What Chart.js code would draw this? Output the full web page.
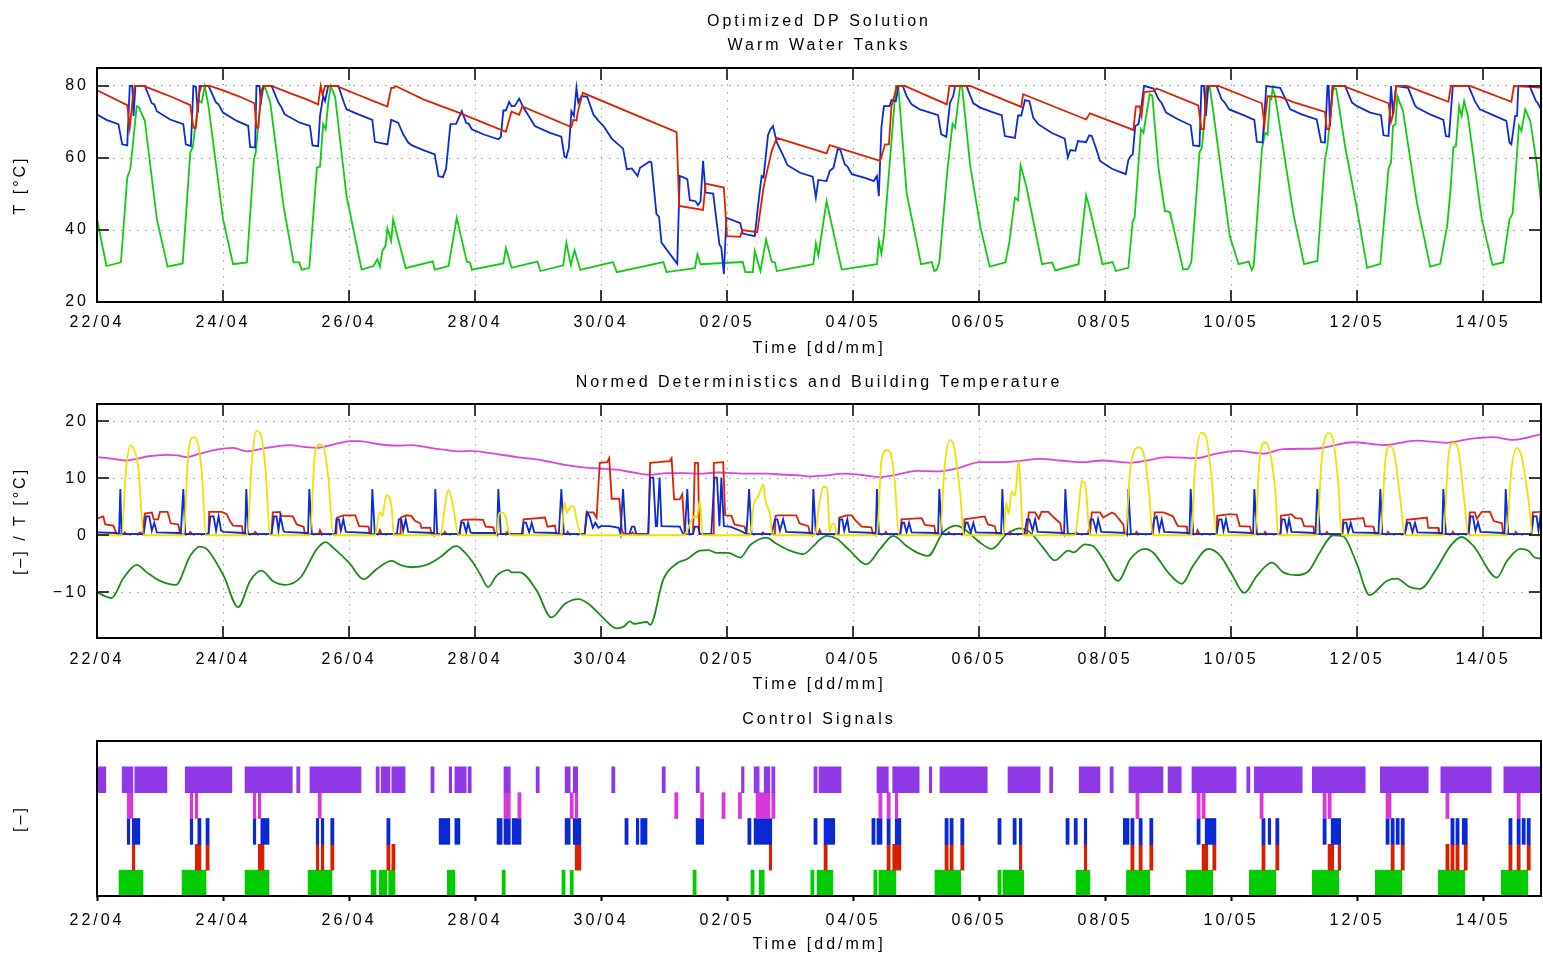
<!DOCTYPE html>
<html>
<head>
<meta charset="utf-8">
<title>Optimized DP Solution</title>
<script src="https://cdn.jsdelivr.net/npm/chart.js@4.4.1/dist/chart.umd.min.js"></script>
<style>
  body { margin: 0; background: #fff; width: 1543px; height: 957px; overflow: hidden; position: relative; }
  canvas { position: absolute; left: 0; }
</style>
</head>
<body>
<canvas id="tankChart" width="1543" height="360" style="top:0px"></canvas>
<canvas id="normChart" width="1543" height="340" style="top:360px"></canvas>
<canvas id="ctrlChart" width="1543" height="257" style="top:700px"></canvas>
<script>
// x values are days since 22/04 00:00
const X_END = 22.92;
const dayTicks = [0, 2, 4, 6, 8, 10, 12, 14, 16, 18, 20, 22];
const dateLabels = ['22/04', '24/04', '26/04', '28/04', '30/04', '02/05', '04/05', '06/05', '08/05', '10/05', '12/05', '14/05'];

/* ---------- Warm water tanks [°C] ---------- */
const tankRed = [[0,78.8],[0.48,74.7],[0.52,68.4],[0.57,77.2],[0.60,80],[0.74,80],[0.95,78.6],[1.21,76.8],[1.48,74.7],[1.53,68.4],[1.57,68.4],[1.62,78],[1.66,80],[1.79,80],[2.0,78.8],[2.27,77],[2.50,75.2],[2.53,68.4],[2.56,68.4],[2.61,78.6],[2.64,80],[2.77,80],[3.06,78],[3.33,76.3],[3.51,74.9],[3.55,80],[3.58,77.5],[3.62,80],[3.80,80],[4.12,77.7],[4.39,75.8],[4.61,74.3],[4.67,79.5],[4.71,79.5],[4.74,80],[5.18,76.3],[5.74,72.6],[6.49,67.3],[6.58,72.9],[6.70,72],[6.75,74.3],[7.53,68.6],[7.56,70.6],[7.61,70.4],[7.63,72.6],[7.71,78.1],[9.20,67.2],[9.24,46.7],[9.62,45.6],[9.66,52.9],[9.95,51.8],[10.0,38.3],[10.21,38.1],[10.24,40],[10.48,39.4],[10.58,51.8],[10.60,53.5],[10.71,62],[10.79,65.6],[11.58,61.3],[11.63,63.6],[12.43,59.2],[12.51,63.8],[12.57,63.8],[12.61,74.4],[12.70,80],[12.82,80],[13.49,74.9],[13.53,80],[13.86,80],[14.67,74.2],[14.70,77.7],[15.70,70.7],[15.76,72.4],[16.45,67.8],[16.49,74.3],[16.55,74.3],[16.58,71.7],[16.62,78.3],[16.77,78.6],[16.82,79.3],[17.48,74.6],[17.53,68],[17.57,68],[17.61,80],[17.80,80],[18.49,75.2],[18.53,69.2],[18.58,77.2],[18.78,77],[18.99,75.5],[19.49,72.8],[19.52,68],[19.56,68],[19.62,80],[19.78,80],[20.50,75.2],[20.54,70],[20.58,72.6],[20.62,80],[20.79,80],[21.45,75.6],[21.49,80],[21.79,80],[22.45,75.6],[22.49,80],[22.95,79.5]];

const tankBlue = [[0,72.1],[0.15,70.6],[0.34,69.4],[0.40,63.8],[0.48,63.5],[0.52,80],[0.56,80],[0.58,71.7],[0.61,80],[0.76,80],[0.87,75.2],[0.91,74.9],[0.95,73],[1.16,70.7],[1.37,69.4],[1.41,63.8],[1.49,63.3],[1.53,80],[1.57,79.8],[1.60,72.6],[1.63,80],[1.77,80],[1.89,75.4],[1.93,74.9],[2.0,72.6],[2.22,70.3],[2.40,68.9],[2.43,63.1],[2.51,62.9],[2.53,80],[2.58,80],[2.60,75.4],[2.64,80],[2.77,80],[2.88,75.4],[2.93,74],[2.98,72.1],[3.22,69.8],[3.38,68.9],[3.42,63.5],[3.51,63.3],[3.54,71.7],[3.59,77.2],[3.62,75.8],[3.67,80],[3.83,80],[3.92,75.4],[3.96,73.5],[4.15,72.1],[4.37,70.6],[4.41,64.5],[4.61,63.8],[4.67,70.6],[4.78,69.8],[4.86,66.6],[4.94,64.3],[5.0,63.5],[5.18,62.2],[5.36,61],[5.42,55],[5.49,54.7],[5.54,56.9],[5.61,69.4],[5.70,69.5],[5.79,73],[5.86,69.8],[5.90,69.5],[5.95,68],[6.13,66.6],[6.37,65.2],[6.41,65.9],[6.45,73.2],[6.49,73.2],[6.54,75.6],[6.58,74.4],[6.63,74.4],[6.70,76.5],[6.77,74],[6.87,71.2],[6.95,68.9],[7.19,67],[7.37,65.9],[7.42,60.4],[7.45,60.1],[7.49,62.9],[7.53,73],[7.57,71.7],[7.61,79.5],[7.64,75.4],[7.69,77.2],[7.78,77],[7.88,72.1],[7.96,70.3],[8.04,68.9],[8.17,65.4],[8.35,62.6],[8.41,56.9],[8.49,57.1],[8.58,55],[8.62,57.3],[8.70,58.2],[8.77,59],[8.80,58.8],[8.88,44.4],[8.92,43.7],[8.96,36.5],[9.21,30.6],[9.25,55],[9.31,54.6],[9.37,54.1],[9.41,48.3],[9.50,48],[9.54,46.9],[9.58,48],[9.62,59.2],[9.66,50.4],[9.78,50.1],[9.88,36],[9.91,35.1],[9.95,27.7],[9.99,43.4],[10.21,41.9],[10.25,39],[10.44,38.3],[10.51,49.4],[10.55,55],[10.58,54.6],[10.65,66.3],[10.69,68],[10.73,68.9],[10.79,64.3],[10.87,61.5],[10.96,58],[11.16,55.9],[11.36,54.8],[11.41,49],[11.45,53.9],[11.58,53.6],[11.63,56.4],[11.69,57.3],[11.76,62.6],[11.80,62.2],[11.87,58.2],[11.91,57.7],[11.98,55.5],[12.19,54.5],[12.33,53.6],[12.38,55],[12.41,49.4],[12.45,68.4],[12.49,74.4],[12.58,74.4],[12.61,76.1],[12.68,75.8],[12.72,80],[12.79,80],[12.85,77.2],[12.93,74.9],[13.06,73.5],[13.35,71.9],[13.40,66.6],[13.48,65.9],[13.54,75.4],[13.59,77.2],[13.62,80],[13.80,80],[13.91,75.2],[14.02,74],[14.20,72.8],[14.36,71.9],[14.41,66.1],[14.57,65.6],[14.62,71.8],[14.67,71.8],[14.73,76.1],[14.80,75.8],[14.86,71.2],[14.94,69.4],[15.15,67],[15.36,65.4],[15.41,60.1],[15.45,62.2],[15.53,62],[15.57,64.7],[15.70,64.4],[15.75,66.3],[15.79,66.1],[15.87,62],[15.92,59.2],[16.11,57],[16.33,55.5],[16.37,59.4],[16.41,60.6],[16.44,61],[16.48,68.9],[16.53,69.4],[16.57,73.5],[16.62,80],[16.77,79.3],[16.85,76.3],[16.90,75.2],[16.97,72.6],[17.14,70.9],[17.36,69.1],[17.40,63.5],[17.50,63.3],[17.53,80],[17.57,80],[17.60,71.7],[17.64,80],[17.77,80],[17.85,76.3],[17.90,75.4],[17.97,73.5],[18.20,71.9],[18.37,70.6],[18.41,64.5],[18.50,64.3],[18.56,80],[18.78,79.5],[18.88,75.8],[18.94,73.5],[19.12,72.1],[19.36,70.7],[19.43,64.4],[19.49,64.3],[19.53,80],[19.55,80],[19.57,68.9],[19.61,80],[19.81,80],[19.92,75.4],[20.0,74.4],[20.21,72.6],[20.38,71.9],[20.42,66.3],[20.50,66.1],[20.54,80],[20.57,72.1],[20.62,80],[20.81,79.5],[20.92,74.6],[20.95,74],[21.16,72.1],[21.37,70.6],[21.41,66.1],[21.46,65.9],[21.52,80],[21.77,80],[21.87,75.8],[21.95,73.5],[22.16,71.9],[22.37,70.3],[22.42,64.3],[22.45,63.8],[22.51,71.7],[22.54,71.7],[22.56,80],[22.74,80],[22.84,75.8],[22.87,75.2],[22.95,72.6]];

const tankGreen = [[0,43],[0.15,30],[0.38,31],[0.48,54.5],[0.53,57],[0.63,74.4],[0.67,74],[0.76,70.3],[0.95,43],[1.12,29.8],[1.36,30.7],[1.48,61.5],[1.52,63],[1.61,76],[1.66,75.4],[1.71,80],[1.77,74.4],[2.0,43],[2.16,30.5],[2.38,31],[2.49,59.6],[2.52,61.5],[2.61,79],[2.67,79.5],[2.75,75.4],[2.96,46.7],[3.12,31],[3.21,31],[3.25,29],[3.37,29.5],[3.49,57.3],[3.54,57.6],[3.59,69.4],[3.63,68],[3.67,75.4],[3.71,80],[3.78,77],[3.96,49.5],[4.20,29],[4.39,30],[4.45,31.9],[4.49,29.8],[4.53,34.2],[4.58,35.6],[4.61,40.5],[4.67,37],[4.70,43],[4.90,29.4],[5.33,31.3],[5.36,29],[5.58,30],[5.71,43.4],[5.87,31.2],[5.92,31],[5.95,29],[6.45,30.7],[6.49,35],[6.58,29.5],[6.99,31.2],[7.04,28.6],[7.40,30.2],[7.45,36.5],[7.52,30.3],[7.58,34.4],[7.67,28.9],[8.19,31.1],[8.25,28.3],[8.99,31.1],[9.04,28.3],[9.49,29.4],[9.53,33.2],[9.58,30.5],[10.25,31.1],[10.29,28.3],[10.41,28.3],[10.44,34.2],[10.53,28.6],[10.62,37.4],[10.71,31.2],[10.76,31],[10.79,28.6],[11.37,30.5],[11.41,36.3],[11.45,33],[11.58,48],[11.82,29],[12.38,30.5],[12.41,37],[12.45,33.5],[12.49,38.3],[12.68,80],[12.72,79.7],[12.85,50.4],[13.08,30.5],[13.25,31.1],[13.29,28.6],[13.33,29],[13.37,31],[13.50,57],[13.58,69.5],[13.62,68.4],[13.70,80],[13.73,80],[13.86,57.8],[14.02,41],[14.17,29.8],[14.42,31],[14.48,36.5],[14.57,49],[14.62,48.3],[14.66,58],[14.75,52.2],[15.0,30.5],[15.16,31],[15.21,28.8],[15.58,30.5],[15.70,49.6],[15.76,45.7],[15.96,30.5],[16.12,31.1],[16.17,28.6],[16.37,29.5],[16.44,42.5],[16.47,43.4],[16.57,68],[16.61,67],[16.66,72.6],[16.71,77.7],[16.75,77.3],[16.85,57],[16.95,45.3],[17.03,45],[17.24,29],[17.32,29.2],[17.37,31.1],[17.50,61.5],[17.54,63],[17.62,79.5],[17.66,80],[17.72,72.6],[17.98,38.3],[18.12,30.5],[18.28,31.2],[18.33,28.9],[18.36,30],[18.49,62.4],[18.54,67],[18.58,66.5],[18.62,76.8],[18.64,76.4],[18.66,79.3],[18.70,77.2],[18.99,44.4],[19.16,30.5],[19.37,31.4],[19.49,59.6],[19.53,63.3],[19.62,79.5],[19.67,79.2],[19.81,63.3],[19.99,46.7],[20.16,29.5],[20.37,30.6],[20.50,57],[20.54,58.8],[20.57,68.9],[20.61,69.4],[20.64,77.2],[20.73,73],[20.95,47.6],[21.16,29.8],[21.32,30.6],[21.40,38.3],[21.43,41],[21.48,50.4],[21.53,62.9],[21.57,63.3],[21.62,74.4],[21.66,71.7],[21.70,75.8],[21.76,71.7],[21.98,43],[22.15,30.3],[22.32,31],[22.42,43],[22.47,44.6],[22.53,58.7],[22.57,68.9],[22.61,67.5],[22.67,73.5],[22.75,70.3],[22.85,58.7],[22.95,43]];

/* ---------- Normed deterministics [-] and building temperature [°C] ---------- */
const buildingTemp = [[0,13.7],[0.26,13.4],[0.47,13.1],[0.63,13.4],[0.79,13.8],[1.11,14.1],[1.27,14.0],[1.42,13.7],[1.63,14.3],[1.90,15.0],[2.16,15.3],[2.38,14.7],[2.69,15.3],[3.06,15.8],[3.28,15.5],[3.49,15.3],[3.75,15.9],[4.02,16.5],[4.17,16.5],[4.44,16.0],[4.76,15.7],[5.0,15.8],[5.29,15.3],[5.50,15.0],[5.76,14.7],[5.92,14.8],[6.24,14.4],[6.66,13.7],[7.08,13.1],[7.45,12.3],[7.72,11.9],[7.98,11.7],[8.24,11.5],[8.51,11.0],[8.78,10.6],[9.04,10.9],[9.31,10.9],[9.57,10.8],[9.84,11.0],[10.10,10.9],[10.37,10.8],[10.63,10.8],[10.9,10.6],[11.16,10.5],[11.32,10.3],[11.58,10.5],[11.85,10.8],[12.11,10.6],[12.45,10.2],[12.64,10.5],[13.01,11.3],[13.38,11.2],[13.65,11.7],[14.02,12.8],[14.28,12.8],[14.60,13.0],[14.97,13.4],[15.29,13.1],[15.63,12.8],[15.97,13.1],[16.40,12.7],[16.66,13.1],[16.98,13.7],[17.45,13.5],[17.77,14.3],[18.09,14.8],[18.51,14.3],[18.83,15.1],[19.36,15.2],[19.94,16.3],[20.42,15.8],[20.95,16.6],[21.42,16.2],[21.79,16.9],[22.16,17.2],[22.48,16.7],[22.95,17.8]];

const outdoorTemp = [[0,-10],[0.23,-11],[0.42,-7.5],[0.63,-5.2],[0.79,-6.5],[1.0,-8.0],[1.25,-8.7],[1.48,-3.6],[1.63,-2.0],[1.74,-2.4],[2.01,-7.1],[2.24,-12.6],[2.43,-8.0],[2.61,-6.2],[2.80,-8.1],[2.98,-8.7],[3.23,-7.4],[3.49,-2.4],[3.63,-1.2],[3.75,-2.2],[4.0,-4.8],[4.23,-7.7],[4.44,-5.9],[4.68,-4.5],[4.81,-5.2],[4.99,-5.6],[5.23,-5.2],[5.44,-3.9],[5.66,-2.0],[5.71,-1.9],[5.81,-2.7],[5.97,-4.8],[6.08,-6.8],[6.21,-9.1],[6.34,-7.1],[6.53,-6.1],[6.58,-6.5],[6.71,-6.5],[6.98,-9.7],[7.21,-14.4],[7.43,-12.0],[7.64,-11.2],[7.80,-12.0],[8.01,-14.2],[8.25,-16.3],[8.36,-16.0],[8.46,-15.1],[8.52,-15.5],[8.73,-15.2],[8.78,-15.7],[8.99,-7.7],[9.21,-4.9],[9.36,-4.2],[9.57,-2.7],[9.70,-2.6],[9.84,-3.1],[10.02,-3.1],[10.21,-3.9],[10.37,-1.7],[10.63,-0.4],[10.76,-1.3],[11.0,-2.7],[11.21,-3.3],[11.37,-1.9],[11.47,-0.8],[11.58,-0.1],[11.74,-0.6],[11.95,-2.7],[12.21,-5.1],[12.43,-2.4],[12.64,-0.1],[12.85,-1.9],[13.01,-3.0],[13.19,-3.6],[13.43,0.5],[13.64,1.7],[13.80,0.8],[14.02,-1.3],[14.20,-2.4],[14.44,0.2],[14.65,1.2],[14.81,0.5],[15.02,-2.2],[15.20,-4.4],[15.42,-2.7],[15.50,-3.0],[15.68,-1.6],[15.81,-1.9],[15.97,-4.2],[16.21,-8.0],[16.40,-4.2],[16.63,-2.4],[16.77,-3.1],[17.0,-6.5],[17.22,-8.5],[17.40,-5.3],[17.64,-2.4],[17.83,-3.6],[18.01,-6.8],[18.21,-10.1],[18.41,-7.1],[18.65,-4.8],[18.83,-6.5],[19.02,-7.0],[19.23,-6.3],[19.41,-3.0],[19.62,0],[19.78,-0.2],[19.99,-4.8],[20.20,-10.5],[20.47,-8.0],[20.63,-7.6],[20.84,-9.1],[21.0,-9.4],[21.26,-5.9],[21.48,-1.9],[21.66,-0.3],[21.85,-1.9],[22.22,-7.4],[22.38,-4.5],[22.59,-2.4],[22.72,-2.7],[22.82,-3.9],[22.95,-4.1]];

const solarYield = [[0,0],[0.39,0],[0.46,11.5],[0.53,15.7],[0.60,14.7],[0.66,11.5],[0.74,0],[1.37,0],[1.45,14.4],[1.53,17.2],[1.59,16.5],[1.66,11.5],[1.73,0],[2.38,0],[2.46,13.3],[2.53,18.3],[2.60,17.6],[2.67,12.1],[2.75,0],[3.38,0],[3.46,14.4],[3.54,15.9],[3.59,15.6],[3.67,10.3],[3.75,0],[4.41,0],[4.49,4.1],[4.53,3.4],[4.59,7.0],[4.63,6.9],[4.68,4.5],[4.71,0],[5.44,0],[5.58,7.9],[5.66,4.5],[5.74,0],[6.34,0],[6.38,3.7],[6.42,4.0],[6.48,3.4],[6.56,0],[7.37,0],[7.42,5.7],[7.46,4.0],[7.52,5.1],[7.57,5.0],[7.61,2.8],[7.69,0],[9.31,0],[9.49,3.4],[9.52,3.1],[9.57,6.0],[9.61,0],[10.37,0],[10.42,5.1],[10.50,6.9],[10.58,8.9],[10.60,6.6],[10.68,3.7],[10.72,0],[11.40,0],[11.45,4.5],[11.53,8.5],[11.59,8.3],[11.63,0.5],[11.66,1.9],[11.71,2.0],[11.74,0],[12.38,0],[12.45,13.0],[12.54,14.9],[12.61,13.8],[12.66,9.8],[12.73,0],[13.38,0],[13.45,11.5],[13.54,16.7],[13.60,15.6],[13.70,7.4],[13.76,0],[14.39,0],[14.43,5.7],[14.47,3.7],[14.52,7.7],[14.57,6.9],[14.63,13.0],[14.66,8.0],[14.70,0],[15.52,0],[15.58,4.5],[15.63,9.5],[15.69,8.7],[15.76,0],[16.32,0],[16.40,11.5],[16.53,15.4],[16.61,14.4],[16.69,8.6],[16.76,0],[17.37,0],[17.43,12.1],[17.53,18.0],[17.60,17.3],[17.69,10.3],[17.77,0],[18.38,0],[18.45,13.0],[18.54,16.3],[18.62,14.4],[18.70,8.0],[18.75,0],[19.36,0],[19.44,13.5],[19.54,17.9],[19.62,16.7],[19.70,9.2],[19.76,0],[20.37,0],[20.45,13.3],[20.52,15.6],[20.59,14.4],[20.68,6.9],[20.76,0],[21.37,0],[21.45,13.8],[21.53,16.2],[21.61,14.7],[21.70,6.3],[21.77,0],[22.37,0],[22.45,11.5],[22.54,15.3],[22.61,13.8],[22.72,6.3],[22.79,0],[22.95,0]];

const heatDemand = [[0,2.9],[0.1,3.3],[0.13,1.9],[0.26,1.7],[0.29,0.8],[0.31,0.2],[0.42,0.2],[0.44,0.5],[0.47,0.2],[0.66,0.2],[0.68,0.5],[0.72,0.2],[0.76,3.8],[0.87,4.0],[0.90,2.8],[0.97,2.8],[1.0,4.1],[1.12,4.1],[1.17,2.1],[1.29,1.9],[1.32,0.2],[1.46,0.2],[1.48,0.6],[1.51,0.2],[1.77,0.2],[1.78,4.1],[1.98,4.1],[2.06,3.7],[2.11,2.5],[2.16,1.7],[2.30,1.6],[2.32,0.2],[2.49,0.2],[2.51,0.6],[2.54,0.2],[2.77,0.2],[2.79,4.0],[2.90,4.1],[2.93,3.4],[3.11,3.3],[3.17,1.9],[3.28,1.5],[3.30,0.2],[3.52,0.2],[3.54,0.9],[3.57,0.2],[3.80,0.2],[3.81,3.1],[3.91,3.5],[4.10,3.5],[4.16,1.6],[4.31,1.5],[4.33,0.2],[4.47,0.2],[4.49,0.9],[4.52,0.2],[4.81,0.2],[4.82,3.1],[4.91,3.5],[4.99,3.4],[5.05,2.5],[5.13,2.1],[5.15,1.3],[5.29,1.3],[5.31,0.2],[5.50,0.2],[5.52,0.6],[5.55,0.2],[5.76,0.2],[5.78,2.5],[5.81,2.7],[5.95,2.8],[6.13,2.7],[6.17,1.5],[6.29,1.4],[6.32,0.2],[6.49,0.2],[6.51,0.6],[6.54,0.2],[6.76,0.2],[6.77,2.8],[7.11,3.1],[7.15,1.5],[7.27,1.7],[7.29,0.2],[7.45,0.2],[7.47,0.6],[7.50,0.2],[7.74,0.2],[7.77,4.0],[7.88,4.0],[7.93,3.1],[7.98,12.7],[8.10,12.8],[8.13,13.5],[8.17,6.4],[8.29,6.4],[8.33,1.0],[8.36,0.2],[8.48,0.2],[8.50,0.5],[8.53,0.2],[8.75,0.2],[8.78,12.7],[8.91,12.8],[9.09,13.0],[9.12,13.5],[9.16,6.3],[9.25,6.3],[9.29,7.2],[9.33,0.2],[9.46,0.2],[9.49,12.7],[9.54,12.7],[9.56,0.2],[9.78,0.2],[9.79,12.7],[9.94,12.8],[9.97,3.5],[10.07,3.4],[10.12,1.9],[10.28,1.5],[10.31,0.2],[10.55,0.2],[10.57,0.5],[10.60,0.2],[10.76,0.2],[10.77,3.4],[10.81,3.5],[11.10,3.5],[11.15,2.1],[11.29,1.6],[11.32,0.2],[11.45,0.2],[11.47,0.9],[11.50,0.2],[11.77,0.2],[11.78,3.1],[11.90,3.5],[11.98,3.5],[12.03,2.7],[12.14,1.5],[12.29,1.4],[12.32,0.2],[12.50,0.2],[12.52,0.6],[12.55,0.2],[12.75,0.2],[12.77,2.8],[13.09,3.0],[13.14,1.8],[13.29,1.6],[13.31,0.2],[13.50,0.2],[13.52,0.5],[13.55,0.2],[13.76,0.2],[13.77,2.8],[14.09,3.3],[14.14,1.9],[14.25,1.6],[14.28,0.2],[14.47,0.2],[14.49,0.6],[14.52,0.2],[14.76,0.2],[14.79,4.0],[14.89,4.0],[14.95,2.9],[14.99,4.1],[15.10,4.1],[15.16,3.4],[15.29,2.1],[15.32,0.2],[15.52,0.2],[15.54,0.6],[15.57,0.2],[15.76,0.2],[15.79,4.0],[15.92,4.0],[15.97,3.1],[16.11,4.0],[16.16,3.7],[16.29,1.9],[16.31,0.2],[16.48,0.2],[16.50,0.6],[16.53,0.2],[16.76,0.2],[16.79,4.0],[16.93,4.0],[17.0,3.7],[17.08,3.3],[17.14,1.9],[17.16,1.6],[17.30,1.5],[17.31,0.2],[17.45,0.2],[17.47,0.9],[17.50,0.2],[17.77,0.2],[17.78,3.4],[17.98,3.7],[18.09,3.6],[18.14,1.6],[18.30,1.5],[18.33,0.2],[18.52,0.2],[18.54,0.6],[18.57,0.2],[18.78,0.2],[18.79,3.4],[18.96,3.7],[19.02,3.0],[19.12,2.9],[19.16,1.6],[19.31,1.5],[19.32,0.2],[19.50,0.2],[19.52,0.6],[19.55,0.2],[19.77,0.2],[19.78,2.7],[20.10,3.0],[20.13,1.6],[20.26,1.5],[20.29,0.2],[20.47,0.2],[20.49,0.6],[20.52,0.2],[20.76,0.2],[20.79,2.7],[21.11,3.1],[21.13,1.3],[21.29,1.3],[21.30,0.2],[21.50,0.2],[21.52,0.6],[21.55,0.2],[21.77,0.2],[21.79,4.0],[21.87,4.0],[21.90,2.9],[21.98,4.1],[22.11,4.1],[22.17,2.5],[22.30,2.1],[22.32,0.2],[22.50,0.2],[22.52,0.6],[22.55,0.2],[22.77,0.2],[22.79,4.0],[22.88,4.1],[22.95,4.2]];

const waterDraw = [[0,0.5],[0.31,0.4],[0.35,0.2],[0.37,8.1],[0.39,0.2],[0.74,0.2],[0.78,3.3],[0.83,3.3],[0.87,0.8],[0.91,2.2],[0.95,0.5],[1.29,0.4],[1.33,0.2],[1.37,8.1],[1.40,0.2],[1.77,0.2],[1.80,3.3],[1.85,3.3],[1.89,0.8],[1.93,3.3],[1.97,0.8],[2.01,0.6],[2.33,0.4],[2.35,0.2],[2.37,8.1],[2.40,0.2],[2.77,0.2],[2.81,3.3],[2.85,3.3],[2.88,0.8],[2.91,3.4],[2.96,0.8],[2.98,0.6],[3.33,0.4],[3.35,0.2],[3.37,8.1],[3.41,0.2],[3.78,0.2],[3.80,2.8],[3.84,2.8],[3.87,0.8],[3.91,2.8],[3.95,0.6],[4.33,0.4],[4.35,0.2],[4.37,8.1],[4.41,0.2],[4.76,0.2],[4.79,2.8],[4.83,2.8],[4.86,0.8],[4.90,2.8],[4.94,0.6],[5.34,0.4],[5.35,0.2],[5.37,8.1],[5.40,0.2],[5.75,0.2],[5.78,2.2],[5.82,2.2],[5.86,0.5],[5.89,2.2],[5.93,0.5],[5.97,0.4],[6.34,0.4],[6.35,0.2],[6.37,8.1],[6.41,0.2],[6.74,0.2],[6.77,2.2],[6.81,2.2],[6.86,0.5],[6.90,2.2],[6.94,0.5],[7.29,0.4],[7.33,0.2],[7.37,8.1],[7.41,0.2],[7.74,0.2],[7.78,4.0],[7.82,3.3],[7.87,1.3],[7.91,2.2],[7.96,1.3],[8.0,1.6],[8.14,1.6],[8.28,1.3],[8.31,0.2],[8.35,8.1],[8.39,0.2],[8.45,0.2],[8.49,1.5],[8.53,1.5],[8.56,0.2],[8.75,0.2],[8.78,10.1],[8.83,10.1],[8.87,1.6],[8.89,1.6],[8.93,10.1],[8.96,1.6],[9.25,1.5],[9.30,0.3],[9.33,0.2],[9.37,8.1],[9.40,0.2],[9.46,0.2],[9.49,1.5],[9.54,1.5],[9.57,0.2],[9.75,0.2],[9.80,10.1],[9.84,10.1],[9.88,1.6],[9.91,10.1],[9.95,1.6],[10.05,1.5],[10.21,0.8],[10.31,0.2],[10.35,8.1],[10.39,0.2],[10.71,0.2],[10.76,2.8],[10.80,2.8],[10.84,0.8],[10.89,2.8],[10.94,0.6],[11.34,0.4],[11.35,0.2],[11.37,8.1],[11.41,0.2],[11.77,0.2],[11.79,2.8],[11.83,2.8],[11.86,0.8],[11.91,2.8],[11.94,0.6],[12.35,0.4],[12.36,0.2],[12.38,8.1],[12.41,0.2],[12.75,0.2],[12.78,2.2],[12.81,2.2],[12.85,0.5],[12.89,2.2],[12.93,0.5],[13.33,0.4],[13.35,0.2],[13.37,8.1],[13.41,0.2],[13.75,0.2],[13.79,2.2],[13.82,2.2],[13.87,0.5],[13.91,2.2],[13.95,0.5],[14.33,0.4],[14.35,0.2],[14.37,8.1],[14.40,0.2],[14.72,0.2],[14.76,2.8],[14.80,2.8],[14.85,0.8],[14.89,2.8],[14.93,0.6],[15.34,0.4],[15.35,0.2],[15.37,8.1],[15.41,0.2],[15.73,0.2],[15.77,2.8],[15.81,2.8],[15.86,0.8],[15.89,2.8],[15.94,0.6],[16.34,0.4],[16.35,0.2],[16.37,8.1],[16.41,0.2],[16.74,0.2],[16.78,2.8],[16.82,3.3],[16.86,0.8],[16.90,2.8],[16.94,0.6],[17.32,0.4],[17.34,0.2],[17.36,8.1],[17.40,0.2],[17.77,0.2],[17.81,2.8],[17.85,2.8],[17.88,0.8],[17.92,2.8],[17.96,0.6],[18.33,0.4],[18.35,0.2],[18.37,8.1],[18.41,0.2],[18.78,0.2],[18.81,2.8],[18.85,2.8],[18.89,0.8],[18.92,2.8],[18.96,0.6],[19.32,0.4],[19.34,0.2],[19.37,8.1],[19.41,0.2],[19.76,0.2],[19.79,2.2],[19.83,2.2],[19.86,0.5],[19.90,2.2],[19.94,0.5],[20.32,0.4],[20.34,0.2],[20.37,8.1],[20.40,0.2],[20.76,0.2],[20.80,2.2],[20.84,2.2],[20.88,0.5],[20.92,2.2],[20.96,0.5],[21.33,0.4],[21.35,0.2],[21.37,8.1],[21.41,0.2],[21.77,0.2],[21.80,3.3],[21.84,3.3],[21.88,0.8],[21.92,2.3],[21.96,0.6],[22.32,0.4],[22.34,0.2],[22.36,8.1],[22.40,0.2],[22.77,0.2],[22.80,3.3],[22.85,3.3],[22.88,0.8],[22.91,3.3],[22.95,1.3]];

/* ---------- Control signals: [on, off] intervals in days ---------- */
const signalRows = ['spare', 'purple', 'magenta', 'blue', 'red', 'green'];
const purpleOn = [[0,0.14],[0.40,0.57],[0.60,1.11],[1.40,2.14],[2.35,3.10],[3.17,3.22],[3.38,4.19],[4.43,4.48],[4.51,4.65],[4.68,4.89],[5.30,5.35],[5.59,5.63],[5.68,5.86],[5.89,5.94],[6.46,6.56],[6.97,7.02],[7.43,7.51],[7.56,7.63],[8.17,8.22],[8.97,9.02],[9.51,9.56],[10.23,10.27],[10.43,10.51],[10.59,10.68],[10.71,10.76],[11.38,11.43],[11.46,11.81],[12.38,12.56],[12.63,13.05],[13.21,13.25],[13.38,14.13],[14.46,14.97],[15.12,15.17],[15.59,15.92],[16.08,16.13],[16.38,16.92],[17.0,17.21],[17.38,18.08],[18.25,18.30],[18.37,19.13],[19.29,20.13],[20.37,21.13],[21.33,22.13],[22.33,22.92]];
const magentaOn = [[0.48,0.57],[1.48,1.52],[1.56,1.60],[2.48,2.52],[2.56,2.60],[3.51,3.56],[6.46,6.56],[6.68,6.73],[7.51,7.56],[7.59,7.63],[9.17,9.22],[9.58,9.63],[9.92,9.97],[10.18,10.23],[10.46,10.68],[10.71,10.76],[12.41,12.46],[12.54,12.59],[12.67,12.71],[16.49,16.54],[17.46,17.51],[17.54,17.59],[18.46,18.51],[19.46,19.51],[19.54,19.59],[20.46,20.54],[21.41,21.46],[22.54,22.59]];
const blueOn = [[0.48,0.52],[0.56,0.68],[1.48,1.52],[1.60,1.65],[1.73,1.78],[2.48,2.52],[2.60,2.73],[3.48,3.52],[3.56,3.60],[3.71,3.76],[4.60,4.65],[5.43,5.60],[5.68,5.76],[6.35,6.43],[6.46,6.56],[6.59,6.73],[7.43,7.51],[7.56,7.68],[8.38,8.43],[8.56,8.60],[8.63,8.73],[9.51,9.63],[10.33,10.38],[10.43,10.71],[11.38,11.43],[11.54,11.71],[12.30,12.35],[12.38,12.46],[12.54,12.59],[12.67,12.76],[13.46,13.51],[13.54,13.59],[13.71,13.76],[14.30,14.35],[14.54,14.59],[14.64,14.68],[15.38,15.43],[15.51,15.56],[15.67,15.71],[16.29,16.38],[16.41,16.46],[16.54,16.59],[16.71,16.76],[17.46,17.51],[17.59,17.76],[18.49,18.54],[18.59,18.63],[18.71,18.76],[19.46,19.51],[19.59,19.74],[20.46,20.51],[20.54,20.59],[20.62,20.67],[20.70,20.75],[21.49,21.54],[21.57,21.62],[21.67,21.75],[22.41,22.46],[22.54,22.59],[22.62,22.67],[22.70,22.75]];
const redOn = [[0.56,0.60],[1.56,1.65],[1.73,1.78],[2.56,2.65],[3.48,3.52],[3.56,3.60],[3.71,3.76],[4.60,4.65],[4.68,4.73],[7.59,7.68],[10.67,10.71],[11.54,11.59],[12.54,12.59],[12.63,12.76],[13.46,13.51],[13.54,13.59],[13.71,13.76],[14.64,14.68],[15.67,15.71],[16.41,16.46],[16.54,16.59],[16.71,16.76],[17.54,17.63],[17.71,17.76],[18.49,18.54],[18.71,18.76],[19.54,19.63],[19.70,19.74],[20.54,20.59],[20.70,20.75],[21.41,21.46],[21.49,21.54],[21.57,21.62],[21.70,21.75],[22.41,22.46],[22.54,22.59],[22.70,22.75]];
const greenOn = [[0.35,0.73],[1.35,1.73],[2.35,2.73],[3.35,3.73],[4.35,4.43],[4.48,4.60],[4.63,4.73],[5.56,5.68],[6.43,6.48],[7.38,7.43],[7.51,7.56],[9.46,9.51],[10.38,10.43],[10.51,10.59],[11.33,11.38],[11.43,11.68],[12.33,12.38],[12.41,12.68],[13.30,13.71],[14.30,14.35],[14.38,14.71],[15.54,15.76],[16.34,16.71],[17.29,17.71],[18.29,18.71],[19.29,19.71],[20.29,20.71],[21.29,21.71],[22.29,22.71]];

/* ---------- look ---------- */
const FONT_SIZE = 16;
const LETTER_SPACING = '3px';
const GRID_DASH = [1.5, 6.5];

Chart.defaults.font.family = "'Liberation Sans', Arial, Helvetica, sans-serif";
Chart.defaults.font.size = FONT_SIZE;
Chart.defaults.color = '#000';
Chart.defaults.animation = false;

const txtFont = { size: FONT_SIZE, weight: 'normal' };

// box around the plot area plus inward tick marks, matlab style
const framePlugin = {
    id: 'frame',
    beforeDraw(chart) {
        chart.ctx.letterSpacing = LETTER_SPACING;
    },
    afterDraw(chart, args, opts) {
        const { ctx, chartArea: a } = chart;
        const len = opts.tickLen || 0;
        ctx.save();
        ctx.strokeStyle = '#000';
        if (len) {
            ctx.lineWidth = 1.5;
            ctx.beginPath();
            const xs = chart.scales.x;
            xs.ticks.forEach(t => {
                const px = Math.round(xs.getPixelForValue(t.value));
                ctx.moveTo(px, a.top); ctx.lineTo(px, a.top + len);
                ctx.moveTo(px, a.bottom); ctx.lineTo(px, a.bottom - len);
            });
            const ys = chart.scales.y;
            ys.ticks.forEach(t => {
                const py = Math.round(ys.getPixelForValue(t.value));
                ctx.moveTo(a.left, py); ctx.lineTo(a.left + len, py);
                ctx.moveTo(a.right, py); ctx.lineTo(a.right - len, py);
            });
            ctx.stroke();
        }
        ctx.lineWidth = 2;
        ctx.strokeRect(a.left, a.top, a.right - a.left, a.bottom - a.top);
        ctx.restore();
    }
};

function timeAxis(opt) {
    return {
        type: 'linear',
        min: 0,
        max: X_END,
        afterBuildTicks: s => { s.ticks = dayTicks.map(v => ({ value: v })); },
        afterFit: s => { s.height = opt.height; },
        ticks: {
            callback: (v, i) => dateLabels[i],
            padding: opt.pad,
            maxRotation: 0,
            autoSkip: false,
            font: txtFont
        },
        grid: {
            display: true,
            drawOnChartArea: opt.grid,
            drawTicks: !opt.grid,
            tickLength: 5,
            tickWidth: 2,
            tickColor: '#000',
            color: '#9a9a9a',
            lineWidth: 1
        },
        border: { display: false, dash: GRID_DASH },
        title: { display: true, text: 'Time [dd/mm]', font: txtFont, padding: { top: 0, bottom: opt.titlePad } }
    };
}

function valueAxis(min, max, ticks, label) {
    return {
        min: min,
        max: max,
        afterBuildTicks: s => { s.ticks = ticks.map(v => ({ value: v })); },
        afterFit: s => { s.width = 97; },
        ticks: {
            padding: 8,
            font: txtFont,
            callback: v => (v < 0 ? '\u2212' + Math.abs(v) : String(v))
        },
        grid: { drawTicks: false, color: '#9a9a9a', lineWidth: 1 },
        border: { display: false, dash: GRID_DASH },
        title: { display: true, text: label, font: txtFont, padding: { top: 11, bottom: 0 } }
    };
}

function series(data, color, smooth) {
    return {
        data: data,
        borderColor: color,
        borderWidth: 1.8,
        pointRadius: 0,
        fill: false,
        cubicInterpolationMode: smooth ? 'monotone' : 'default'
    };
}

function titleOpts(text, top, bottom) {
    return {
        display: true,
        fullSize: false,
        text: text,
        color: '#000',
        font: { size: FONT_SIZE, weight: 'normal', lineHeight: 1.5 },
        padding: { top: top, bottom: bottom }
    };
}

/* ==========================
   Warm water tanks
========================== */
new Chart(document.getElementById('tankChart'), {
    type: 'line',
    data: {
        datasets: [
            series(tankRed, '#dd2200'),
            series(tankBlue, '#0b2bd6'),
            series(tankGreen, '#10cc10')
        ]
    },
    options: {
        responsive: false,
        layout: { padding: { left: 0, right: 2, top: 0, bottom: 0 } },
        scales: {
            x: timeAxis({ height: 58, pad: 11, titlePad: 2, grid: true }),
            y: valueAxis(20, 85, [20, 40, 60, 80], 'T [°C]')
        },
        plugins: {
            legend: { display: false },
            tooltip: { enabled: false },
            title: titleOpts(['Optimized DP Solution', 'Warm Water Tanks'], 10, 10),
            frame: { tickLen: 12 }
        }
    },
    plugins: [framePlugin]
});

/* ==========================
   Normed deterministics
========================== */
new Chart(document.getElementById('normChart'), {
    type: 'line',
    data: {
        datasets: [
            series(solarYield, '#eee200', true),
            series(waterDraw, '#0b2bd6'),
            series(heatDemand, '#dd2200'),
            series(buildingTemp, '#dd44dd', true),
            series(outdoorTemp, '#1a8c1a', true)
        ]
    },
    options: {
        responsive: false,
        layout: { padding: { left: 0, right: 2, top: 0, bottom: 0 } },
        scales: {
            x: timeAxis({ height: 62, pad: 12, titlePad: 6, grid: true }),
            y: valueAxis(-18, 23, [-10, 0, 10, 20], '[–] / T [°C]')
        },
        plugins: {
            legend: { display: false },
            tooltip: { enabled: false },
            title: titleOpts('Normed Deterministics and Building Temperature', 11, 9),
            frame: { tickLen: 12 }
        }
    },
    plugins: [framePlugin]
});

/* ==========================
   Control signals
========================== */
function signalBars(intervals, row, color) {
    return {
        data: intervals.map(([on, off]) => ({ x: [on, off], y: row })),
        backgroundColor: color,
        borderWidth: 0,
        barPercentage: 1,
        categoryPercentage: 1,
        grouped: false
    };
}

new Chart(document.getElementById('ctrlChart'), {
    type: 'bar',
    data: {
        labels: signalRows,
        datasets: [
            signalBars(purpleOn, 'purple', '#8e38e8'),
            signalBars(magentaOn, 'magenta', '#d838d8'),
            signalBars(blueOn, 'blue', '#0a28d4'),
            signalBars(redOn, 'red', '#d82000'),
            signalBars(greenOn, 'green', '#00cc00')
        ]
    },
    options: {
        responsive: false,
        indexAxis: 'y',
        layout: { padding: { left: 0, right: 2, top: 0, bottom: 0 } },
        scales: {
            x: timeAxis({ height: 61, pad: 10, titlePad: 3, grid: false }),
            y: {
                type: 'category',
                afterFit: s => { s.width = 97; },
                ticks: { display: false },
                grid: { display: false },
                border: { display: false },
                title: { display: true, text: '[–]', font: txtFont, padding: { top: 11, bottom: 0 } }
            }
        },
        plugins: {
            legend: { display: false },
            tooltip: { enabled: false },
            title: titleOpts('Control Signals', 8, 9),
            frame: { tickLen: 0 }
        }
    },
    plugins: [framePlugin]
});
</script>
</body>
</html>
